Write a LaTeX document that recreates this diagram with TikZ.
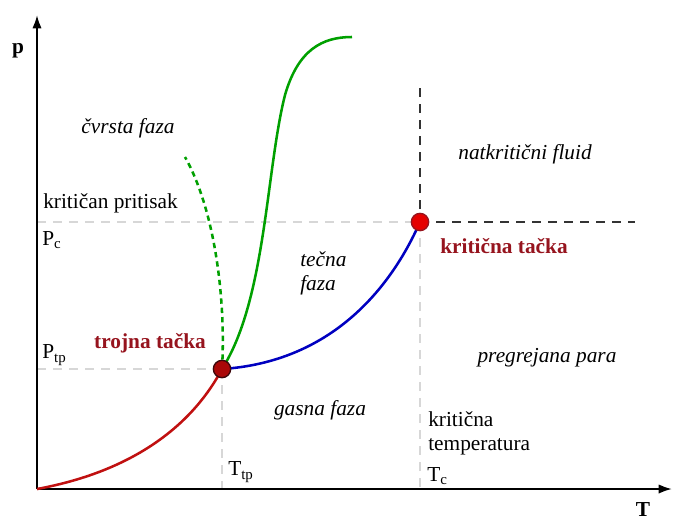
\documentclass[tikz,border=0pt]{standalone}
\usepackage{fontspec}
\setmainfont{Liberation Serif}
\usetikzlibrary{arrows.meta}
\definecolor{darkred}{RGB}{150,20,30}
\definecolor{curvered}{RGB}{192,16,16}
\definecolor{curveblue}{RGB}{0,0,192}
\definecolor{curvegreen}{RGB}{0,160,0}
\definecolor{gridgray}{RGB}{215,215,215}
\definecolor{tripleclr}{RGB}{170,8,8}
\begin{document}
\begin{tikzpicture}[x=0.75pt, y=-0.75pt,
        every node/.style={font=\fontsize{16}{18}\selectfont, inner sep=0pt},
        phase/.style={font=\fontsize{16}{18}\selectfont\itshape},
        pointlabel/.style={font=\fontsize{16}{18}\selectfont\bfseries, text=darkred},
        helpline/.style={gridgray, line width=1.4pt, dash pattern=on 7pt off 5pt},
        limitline/.style={black!80, line width=1.6pt, dash pattern=on 7pt off 5pt},
        curve/.style={line width=1.9pt}]
    \useasboundingbox (0,0) rectangle (673,521);

    \coordinate (origin) at (37,489);
    \coordinate (ptop) at (37,15);
    \coordinate (tend) at (672,489);
    \coordinate (pcleft) at (37,222);
    \coordinate (ptpleft) at (37,369);
    \coordinate (ttpfoot) at (222,489);
    \coordinate (tcfoot) at (420,489);
    \coordinate (fluidtop) at (420,88);
    \coordinate (fluidright) at (635,222);
    \coordinate (meltend) at (352,37);
    \coordinate (anomend) at (185,157);

    % helper lines
    \draw[helpline] (pcleft) -- (420,222);
    \draw[helpline] (ptpleft) -- (222,369);
    \draw[helpline] (222,369) -- (ttpfoot);
    \draw[helpline] (420,222) -- (tcfoot);
    \draw[limitline] (fluidtop) -- (420,222);
    \draw[limitline] (420,222) -- (fluidright);

    % axes
    \draw[line width=1.5pt, -{Latex[length=10pt, width=7pt]}] (origin) -- (ptop);
    \draw[line width=1.5pt, -{Latex[length=10pt, width=7pt]}] (origin) -- (tend);

    % phase boundaries
    \draw[curve, curvered] (origin) .. controls (140,470) and (195,420) .. (222,369);
    \draw[curve, curveblue] (222,369) .. controls (330,362) and (390,290) .. (420,222);
    \draw[curve, curvegreen] (222,369) .. controls (266,300) and (266,170) .. (285,95) .. controls (298,50) and (322,37) .. (meltend);
    \draw[curve, curvegreen, dash pattern=on 4pt off 3pt] (222,369) .. controls (226,300) and (215,210) .. (anomend);

    % points
    \node[circle, minimum size=13pt, fill=red!90!black, draw=darkred, line width=1pt] (critpt) at (420,222) {};
    \node[circle, minimum size=13pt, fill=tripleclr, draw=black!60!darkred, line width=1pt] (triplept) at (222,369) {};

    % labels
    \node[font=\fontsize{16}{18}\selectfont\bfseries] (plabel) at (18,51) {p};
    \node[font=\fontsize{16}{18}\selectfont\bfseries] (tlabel) at (643,510) {T};
    \node[phase] (solid) at (128,128) {čvrsta faza};
    \node[anchor=west] (pcname) at (43,203) {kritičan pritisak};
    \node[anchor=west] (pc) at (42,240) {P\textsubscript{c}};
    \node[anchor=west] (ptp) at (42,355) {P\textsubscript{tp}};
    \node[pointlabel] (triplename) at (150,343) {trojna tačka};
    \node[phase, anchor=west, align=left] (liquid) at (300,273) {tečna\\faza};
    \node[phase] (fluid) at (525,154) {natkritični fluid};
    \node[pointlabel, anchor=west] (critname) at (440,246) {kritična tačka};
    \node[phase] (vapour) at (547,358) {pregrejana para};
    \node[phase] (gas) at (320,410) {gasna faza};
    \node[anchor=west, align=left] (tcname) at (428,433) {kritična\\temperatura};
    \node[anchor=west] (ttp) at (228,472) {T\textsubscript{tp}};
    \node[anchor=west] (tc) at (427,476) {T\textsubscript{c}};
\end{tikzpicture}
\end{document}
